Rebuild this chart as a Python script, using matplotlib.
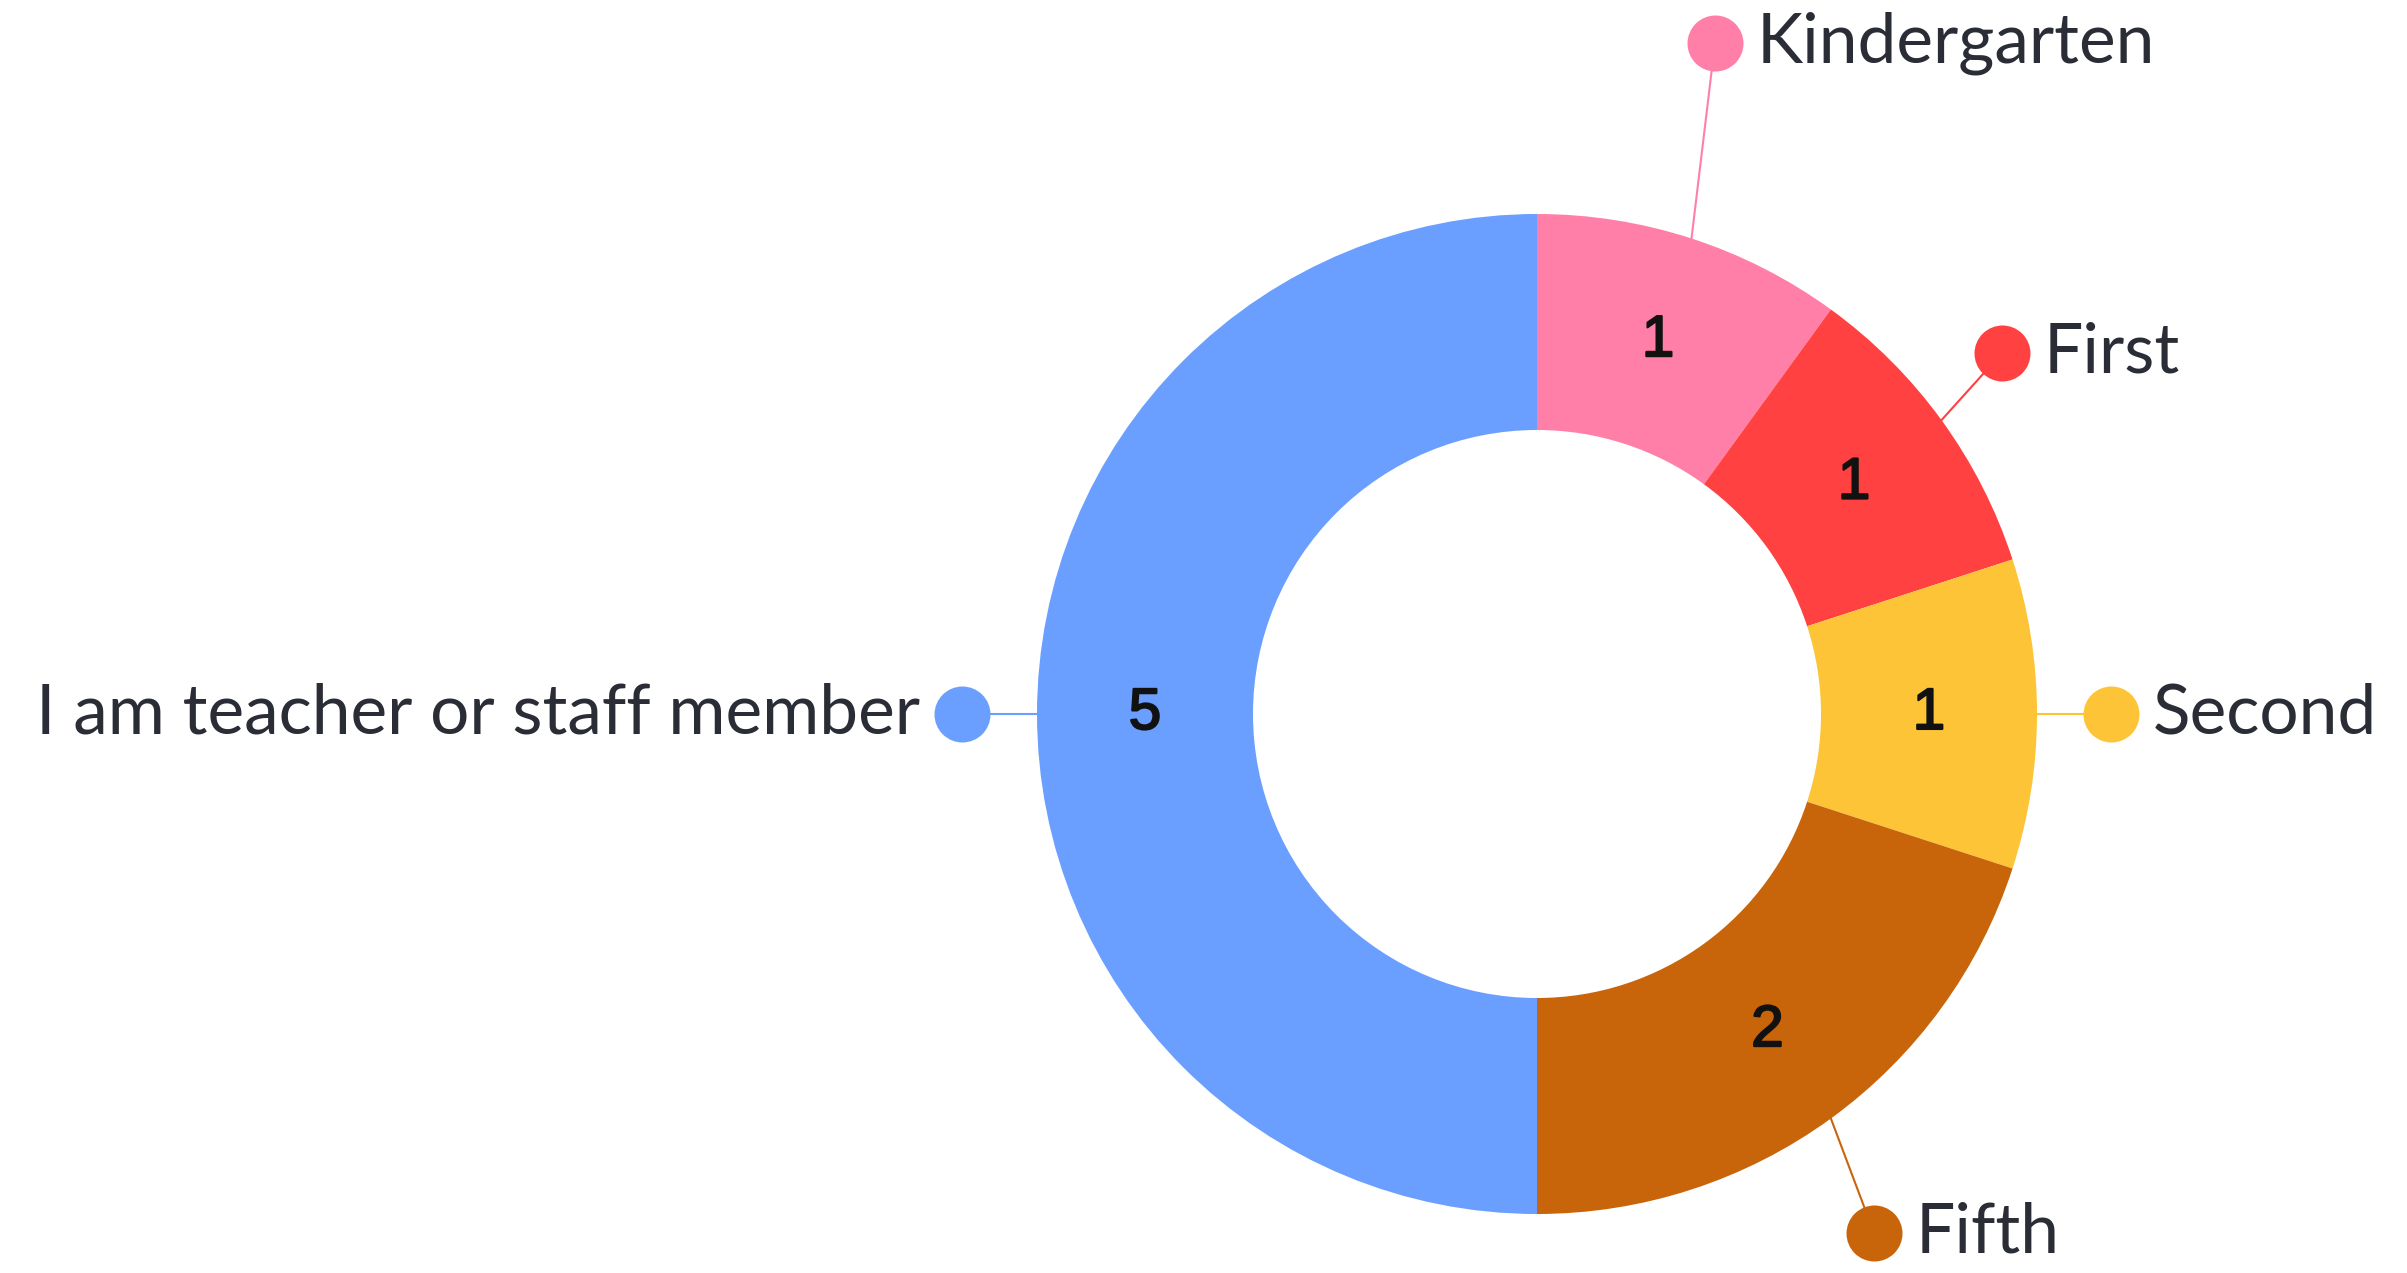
import numpy as np
import matplotlib
matplotlib.use('Agg')
import matplotlib.pyplot as plt
import matplotlib.patheffects as pe
from matplotlib import font_manager

# data
categories = ['Kindergarten', 'First', 'Second', 'Fifth', 'I am teacher or staff member']
counts = [1, 1, 1, 2, 5]
colors = ['#FF7FA8', '#FF4141', '#FCC436', '#C8650B', '#6B9FFF']

# layout (pixels, image coords with y downward)
W, H = 2407, 1273
cx, cy = 1537, 714
r_out = 500
r_in = 284
# where each label's dot sits, and which side the text goes
dot_pos = [(1715, 43), (2002, 353), (2111, 714), (1874, 1233), (962, 714)]
text_side = ['right', 'right', 'right', 'right', 'left']

# pick an Arial-like regular face for the numbers straight from the font files
num_prop = None
for f in font_manager.fontManager.ttflist:
    if f.name in ('Liberation Sans', 'Arimo') and f.style == 'normal' and f.weight in (400, 'normal'):
        num_prop = font_manager.FontProperties(fname=f.fname, size=42)
        break
if num_prop is None:
    num_prop = font_manager.FontProperties(family='Roboto', size=42)

fig = plt.figure(figsize=(W / 100, H / 100), dpi=100)
ax = fig.add_axes([0, 0, 1, 1])

center = (cx, H - cy)
wedges, _ = ax.pie(
    counts,
    colors=colors,
    startangle=90,
    counterclock=False,
    radius=r_out,
    center=center,
    wedgeprops=dict(width=r_out - r_in, linewidth=0),
    frame=True,
)
ax.set_xlim(0, W)
ax.set_ylim(0, H)
ax.set_aspect('equal')
ax.axis('off')

r_mid = (r_out + r_in) / 2
for w, n, lab, col, (dx, dy), side in zip(wedges, counts, categories, colors, dot_pos, text_side):
    ang = np.deg2rad((w.theta1 + w.theta2) / 2)
    # value inside ring
    ax.text(center[0] + r_mid * np.cos(ang), center[1] + r_mid * np.sin(ang), str(n),
            ha='center', va='center', color='#111111', fontproperties=num_prop,
            path_effects=[pe.withStroke(linewidth=1.5, foreground='#111111')])
    # leader line from outer edge to dot
    x0 = center[0] + r_out * np.cos(ang)
    y0 = center[1] + r_out * np.sin(ang)
    ax.plot([x0, dx], [y0, H - dy], color=col, lw=1.5, zorder=1)
    ax.scatter([dx], [H - dy], s=(56 * 0.72) ** 2, color=col, zorder=3, linewidths=0)
    if side == 'right':
        ax.text(dx + 42, H - dy, lab, ha='left', va='center', fontsize=50,
                color='#2A2D35', family='Lato')
    else:
        ax.text(dx - 42, H - dy, lab, ha='right', va='center', fontsize=50,
                color='#2A2D35', family='Lato')

fig.savefig('out.png', dpi=100, facecolor='white')
